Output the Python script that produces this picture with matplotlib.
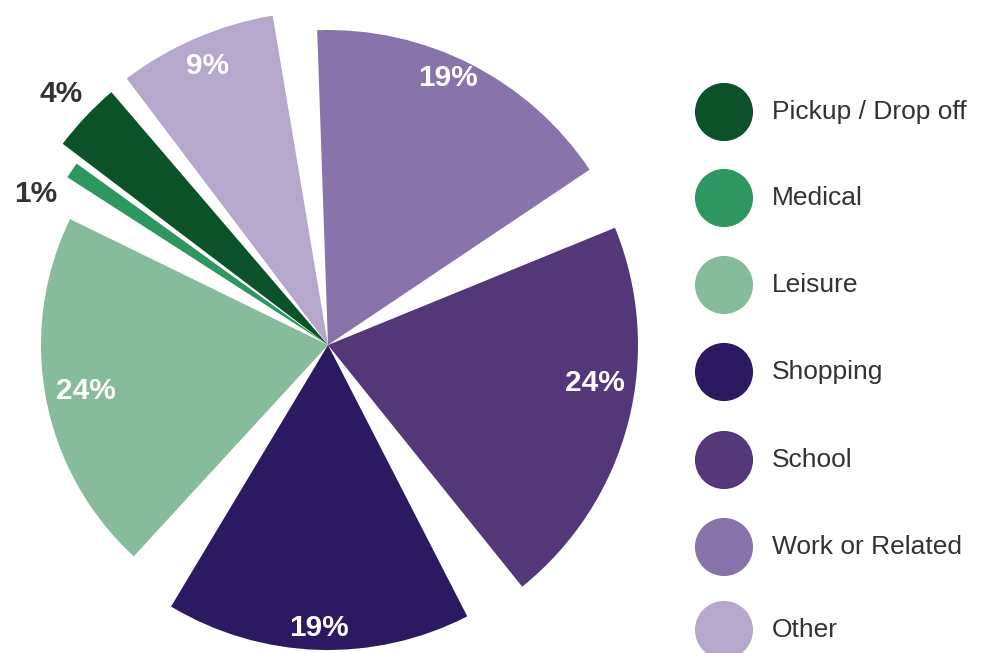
import numpy as np
import matplotlib
matplotlib.use('Agg')
import matplotlib.pyplot as plt

plt.rcParams['font.family'] = ['Liberation Sans', 'DejaVu Sans']

# datos, en el orden de la leyenda (y antihorario en la tarta)
categorias = ['Pickup / Drop off', 'Medical', 'Leisure', 'Shopping', 'School',
              'Work or Related', 'Other']
porcentajes = [4, 1, 24, 19, 24, 19, 9]
colores = ['#0b5229', '#2e9660', '#86bc9c', '#2b1a62', '#533779', '#8873ab', '#b5a8cc']
radios = [333, 310, 287, 305, 310, 315, 334]  # cada porción tiene su propio radio
fuera = [True, True, False, False, False, False, False]  # etiquetas fuera de la porción
dist_etiq = [1.10, 1.06, 0.86, 0.93, 0.87, 0.93, 0.91]  # distancia relativa al radio
giro_etiq = [0, 7, 0, 0, 6.5, 3, 0]  # pequeño giro (grados) de la etiqueta

W, H = 987, 653
fig = plt.figure(figsize=(W / 100, H / 100), dpi=100)
ax = fig.add_axes([0, 0, 1, 1])

cx, cy = 328, H - 345
cuñas, _ = ax.pie(porcentajes, colors=colores, startangle=129.5, counterclock=True,
                  radius=300, center=(cx, cy), frame=True,
                  wedgeprops=dict(linewidth=0))
ax.set_xlim(0, W)
ax.set_ylim(0, H)
ax.set_aspect('equal')
ax.axis('off')

for w, r, v, out, d, g in zip(cuñas, radios, porcentajes, fuera, dist_etiq, giro_etiq):
    # separación entre porciones: cada una conserva el 85% de su ángulo
    t1, t2 = w.theta1, w.theta2
    mid = (t1 + t2) / 2
    half = (t2 - t1) * 0.85 / 2
    w.set_theta1(mid - half)
    w.set_theta2(mid + half)
    w.set_radius(r)
    ang = np.deg2rad(mid + g)
    color = '#333333' if out else 'white'
    ax.text(cx + d * r * np.cos(ang), cy + d * r * np.sin(ang), f'{v}%',
            ha='center', va='center', fontsize=21.5, fontweight='bold', color=color)

# leyenda con círculos
ys = H - np.array([112, 198, 285, 372, 460, 547, 630])
ax.scatter(np.full(len(categorias), 724), ys, s=1750, c=colores, linewidths=0,
           clip_on=False)
for y, cat in zip(ys, categorias):
    ax.text(772, y, cat, ha='left', va='center', fontsize=19, color='#333333')

fig.savefig('out.png', dpi=100, facecolor='white')
